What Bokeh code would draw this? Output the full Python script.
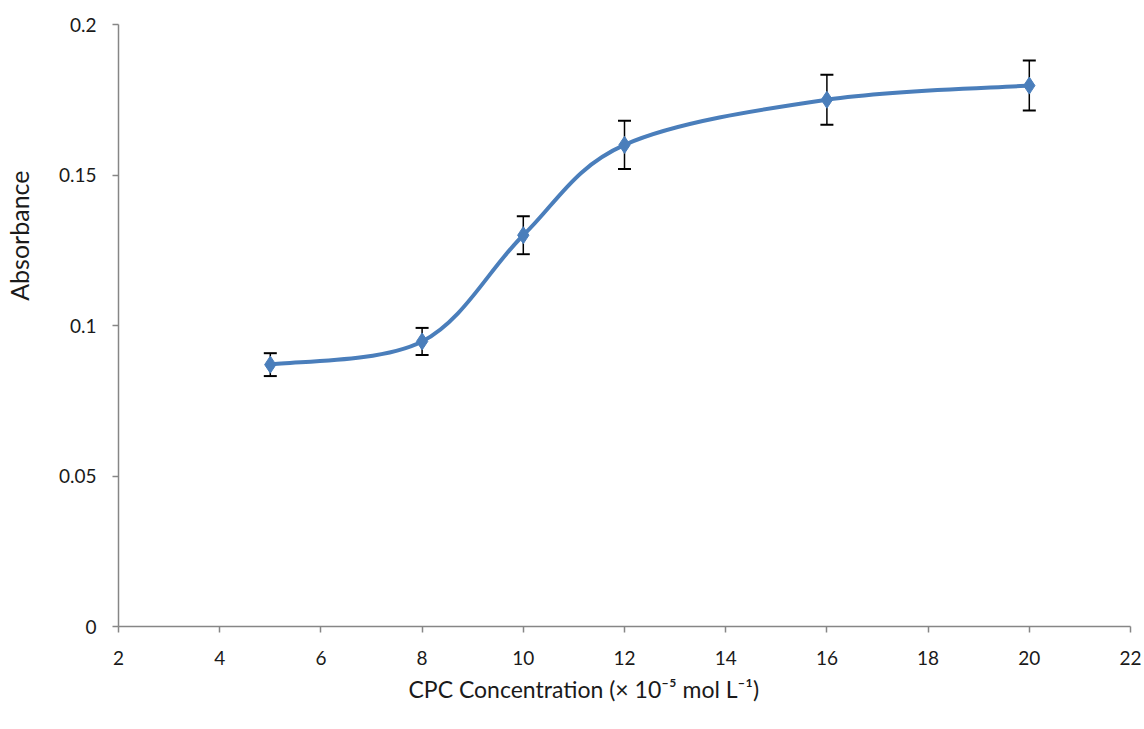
from bokeh.plotting import figure
from bokeh.models import Range1d, ColumnDataSource, Whisker, TeeHead, FixedTicker, Title
from bokeh.embed import file_html
from bokeh.resources import INLINE

# data
conc = [5, 8, 10, 12, 16, 20]
absorb = [0.087, 0.0947, 0.130, 0.160, 0.175, 0.1797]
err = [0.0038, 0.0045, 0.0063, 0.008, 0.0083, 0.0083]
x_ticks = [2, 4, 6, 8, 10, 12, 14, 16, 18, 20, 22]
y_ticks = [0, 0.05, 0.1, 0.15, 0.2]
x_title = "CPC Concentration (× 10⁻⁵ mol L⁻¹)"
y_title = "Absorbance"

FONT = "Lato"
AXIS_GREY = "#868686"
BLUE = "#4A7EBB"
TXT = "#1a1a1a"

p = figure(width=1144, height=729, output_backend="svg", toolbar_location=None,
           x_range=Range1d(2, 22), y_range=Range1d(0, 0.2),
           min_border_left=118, min_border_right=14, min_border_top=24, min_border_bottom=103)
p.outline_line_color = None
p.xgrid.visible = False
p.ygrid.visible = False
p.background_fill_color = "white"
p.border_fill_color = "white"

# smoothed line (Catmull-Rom style Bezier segments computed from the data)
n = len(conc)
x0s, y0s, x1s, y1s, cx0, cy0, cx1, cy1 = [], [], [], [], [], [], [], []
for i in range(n - 1):
    xa, ya = conc[i], absorb[i]
    xb, yb = conc[i + 1], absorb[i + 1]
    xp, yp = (conc[i - 1], absorb[i - 1]) if i > 0 else (xa, ya)
    xn, yn = (conc[i + 2], absorb[i + 2]) if i + 2 < n else (xb, yb)
    x0s.append(xa); y0s.append(ya); x1s.append(xb); y1s.append(yb)
    cx0.append(xa + (xb - xp) / 6.0); cy0.append(ya + (yb - yp) / 6.0)
    cx1.append(xb - (xn - xa) / 6.0); cy1.append(yb - (yn - ya) / 6.0)
p.bezier(x0=x0s, y0=y0s, x1=x1s, y1=y1s, cx0=cx0, cy0=cy0, cx1=cx1, cy1=cy1,
         line_color=BLUE, line_width=4)

# error bars
src = ColumnDataSource(dict(x=conc, y=absorb,
                            lo=[a - e for a, e in zip(absorb, err)],
                            hi=[a + e for a, e in zip(absorb, err)]))
w = Whisker(source=src, base="x", lower="lo", upper="hi",
            line_color="black", line_width=1.5,
            upper_head=TeeHead(size=13, line_color="black", line_width=2),
            lower_head=TeeHead(size=13, line_color="black", line_width=2))
p.add_layout(w)

# markers
p.scatter("x", "y", source=src, marker="diamond", size=17,
          fill_color=BLUE, line_color=BLUE)

# axes
for ax in (p.xaxis[0], p.yaxis[0]):
    ax.axis_line_color = AXIS_GREY
    ax.axis_line_width = 1.5
    ax.major_tick_line_color = AXIS_GREY
    ax.major_tick_line_width = 1.5
    ax.major_tick_in = 0
    ax.major_tick_out = 6
    ax.minor_tick_line_color = None
    ax.major_label_text_font = FONT
    ax.major_label_text_font_size = "19px"
    ax.major_label_text_color = TXT
    ax.axis_label_standoff = 0

p.xaxis.ticker = FixedTicker(ticks=x_ticks)
p.yaxis.ticker = FixedTicker(ticks=y_ticks)
p.yaxis.major_label_overrides = {0: "0", 0.05: "0.05", 0.1: "0.1", 0.15: "0.15", 0.2: "0.2"}
p.xaxis.major_label_standoff = 18
p.yaxis.major_label_standoff = 16

# axis titles as side titles (positioned like the original, off-centre)
p.add_layout(Title(text=x_title, align="left", offset=290, standoff=10,
                   text_font=FONT, text_font_size="23px", text_font_style="normal",
                   text_color=TXT), "below")
# spacer between the y tick labels and the y title
p.add_layout(Title(text=" ", standoff=18, text_font_size="1px"), "left")
p.add_layout(Title(text=y_title, align="right", offset=146, standoff=2,
                   text_font=FONT, text_font_size="25px", text_font_style="normal",
                   text_color=TXT), "left")

open("out.html", "w").write(file_html(p, INLINE))
